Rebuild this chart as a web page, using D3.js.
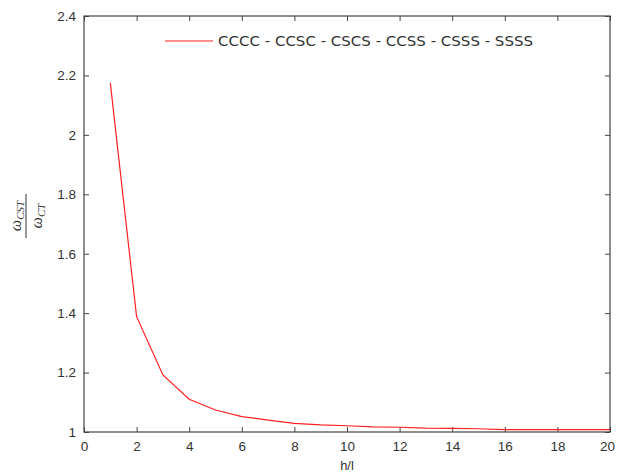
<!DOCTYPE html>
<html>
<head>
<meta charset="utf-8">
<script src="https://cdn.jsdelivr.net/npm/d3@7"></script>
<style>
  body { margin: 0; background: #fff; }
  svg text { font-family: "Liberation Sans", Arial, sans-serif; }
</style>
</head>
<body>
<div id="chart"></div>
<script>
// h/l ratio and frequency ratio
const hl = [1, 2, 3, 4, 5, 6, 7, 8, 9, 10, 11, 12, 13, 14, 15, 16, 17, 18, 19, 20];
const ratio = [2.175, 1.388, 1.192, 1.110, 1.074, 1.052, 1.040, 1.029, 1.024, 1.021,
               1.017, 1.016, 1.013, 1.012, 1.011, 1.008, 1.008, 1.008, 1.008, 1.008];
const xTicks = [0, 2, 4, 6, 8, 10, 12, 14, 16, 18, 20];
const yTicks = [1, 1.2, 1.4, 1.6, 1.8, 2, 2.2, 2.4];
const legendLabel = "CCCC - CCSC - CSCS - CCSS - CSSS - SSSS";

const margin = { top: 16, right: 7, bottom: 42, left: 84 },
      width = 617 - margin.left - margin.right,
      height = 474 - margin.top - margin.bottom;

const svg = d3.select("#chart").append("svg")
  .attr("width", 617)
  .attr("height", 474);

const g = svg.append("g")
  .attr("transform", `translate(${margin.left},${margin.top})`);

const x = d3.scaleLinear().domain([0, 20]).range([0, width]);
const y = d3.scaleLinear().domain([1, 2.4]).range([height, 0]);

const axisColor = "#444";
const tickLen = 5;

// frame + inward ticks on all four sides
function styleAxis(sel) {
  sel.select(".domain").remove();
  sel.selectAll(".tick line").attr("stroke", axisColor);
  sel.selectAll(".tick text").attr("fill", "#333").style("font-size", "13.5px");
}

const xb = g.append("g")
  .attr("transform", `translate(0,${height})`)
  .call(d3.axisBottom(x).tickValues(xTicks).tickSizeInner(-tickLen).tickSizeOuter(0).tickPadding(9).tickFormat(d3.format("d")))
  .call(styleAxis);
// last label sits at the window edge, nudge it in like the original
xb.selectAll(".tick text").filter(d => d === 20).attr("dx", -3);

g.append("g")
  .call(d3.axisTop(x).tickValues(xTicks).tickSizeInner(-tickLen).tickSizeOuter(0).tickFormat(""))
  .call(styleAxis);

g.append("g")
  .call(d3.axisLeft(y).tickValues(yTicks).tickSizeInner(-tickLen).tickSizeOuter(0).tickPadding(8).tickFormat(d => d3.format("")(+d.toFixed(1))))
  .call(styleAxis);

g.append("g")
  .attr("transform", `translate(${width},0)`)
  .call(d3.axisRight(y).tickValues(yTicks).tickSizeInner(-tickLen).tickSizeOuter(0).tickFormat(""))
  .call(styleAxis);

g.append("rect")
  .attr("width", width)
  .attr("height", height)
  .attr("fill", "none")
  .attr("stroke", axisColor)
  .attr("stroke-width", 1.2);

// data line
const line = d3.line().x((d, i) => x(hl[i])).y(d => y(d));
g.append("path")
  .datum(ratio)
  .attr("fill", "none")
  .attr("stroke", "#ff2020")
  .attr("stroke-width", 1.2)
  .attr("d", line);

// legend
svg.append("line")
  .attr("x1", 165).attr("x2", 213)
  .attr("y1", 41).attr("y2", 41)
  .attr("stroke", "#ff2020")
  .attr("stroke-width", 1.2);
svg.append("text")
  .attr("x", 218).attr("y", 46)
  .attr("fill", "#333")
  .style("font-family", "'DejaVu Sans', sans-serif")
  .style("font-size", "13.5px")
  .attr("textLength", 315)
  .attr("lengthAdjust", "spacingAndGlyphs")
  .text(legendLabel);

// x label
svg.append("text")
  .attr("x", margin.left + width / 2)
  .attr("y", 470)
  .attr("text-anchor", "middle")
  .attr("fill", "#333")
  .style("font-size", "13px")
  .text("h/l");

// y label: fraction omega_CST / omega_CT, rotated
const yl = svg.append("g").attr("transform", "translate(26,216) rotate(-90)");
yl.append("line")
  .attr("x1", -22).attr("x2", 22)
  .attr("y1", 0).attr("y2", 0)
  .attr("stroke", "#333").attr("stroke-width", 1);
const num = yl.append("text")
  .attr("x", 0).attr("y", -5)
  .attr("text-anchor", "middle")
  .attr("fill", "#333")
  .style("font-family", "'Liberation Serif', serif")
  .style("font-style", "italic")
  .style("font-size", "16px");
num.append("tspan").text("ω");
num.append("tspan").attr("dy", 3).style("font-size", "11px").text("CST");
const den = yl.append("text")
  .attr("x", 0).attr("y", 16)
  .attr("text-anchor", "middle")
  .attr("fill", "#333")
  .style("font-family", "'Liberation Serif', serif")
  .style("font-style", "italic")
  .style("font-size", "16px");
den.append("tspan").text("ω");
den.append("tspan").attr("dy", 3).style("font-size", "11px").text("CT");
</script>
</body>
</html>
